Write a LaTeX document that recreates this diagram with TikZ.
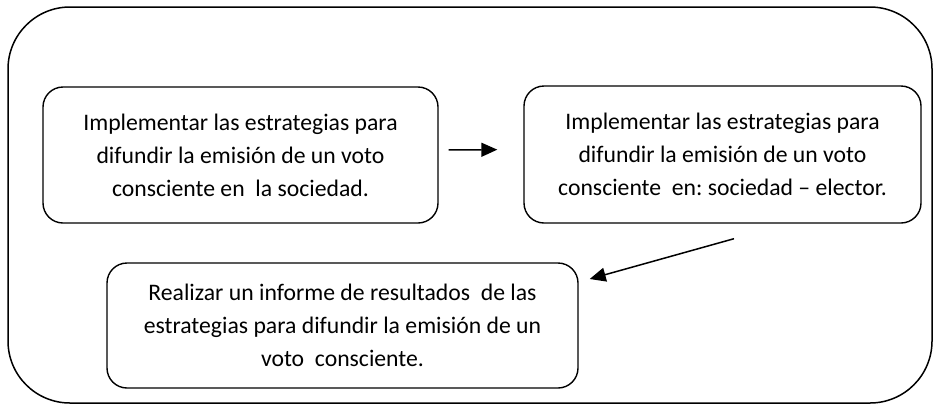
\documentclass[tikz,border=0pt]{standalone}
\usepackage{fontspec}
\setmainfont{Carlito}
\usetikzlibrary{arrows.meta}
\frenchspacing

\begin{document}
\begin{tikzpicture}[x=1pt, y=-1pt,
    caja/.style={rectangle, draw, line width=1.4pt, rounded corners=20pt, align=center,
        font=\fontsize{23.7}{33}\selectfont, inner sep=0pt, minimum width=#1},
    flecha/.style={-{Triangle[length=16pt, width=14pt]}, line width=1.5pt}
]
    \useasboundingbox (0,0) rectangle (933,405);
    \node[rectangle, draw, line width=1.5pt, rounded corners=62pt,
        minimum width=924pt, minimum height=396pt] (marco) at (470,205) {};

    \node[caja=395pt, minimum height=136pt] (c1) at (240.5,155)
        {Implementar las estrategias para\\difundir la emisión de un voto\\consciente en\ \ la sociedad.};
    \node[caja=397pt, minimum height=137pt] (c2) at (722.5,154.5)
        {Implementar las estrategias para\\difundir la emisión de un voto\\consciente\ \ en: sociedad – elector.};
    \node[caja=471pt, minimum height=125pt] (c3) at (342.5,325.5)
        {Realizar un informe de resultados\ \ de las\\estrategias para difundir la emisión de un\\voto\ \ consciente.};

    \draw[flecha] ([yshift=5pt]c1.east) -- ([yshift=5pt]c2.west)
        [shorten <=10pt, shorten >=26pt];
    \draw[flecha] ([xshift=11.5pt, yshift=-15pt]c2.south) -- ([xshift=11pt, yshift=46.5pt]c3.east);
\end{tikzpicture}
\end{document}
